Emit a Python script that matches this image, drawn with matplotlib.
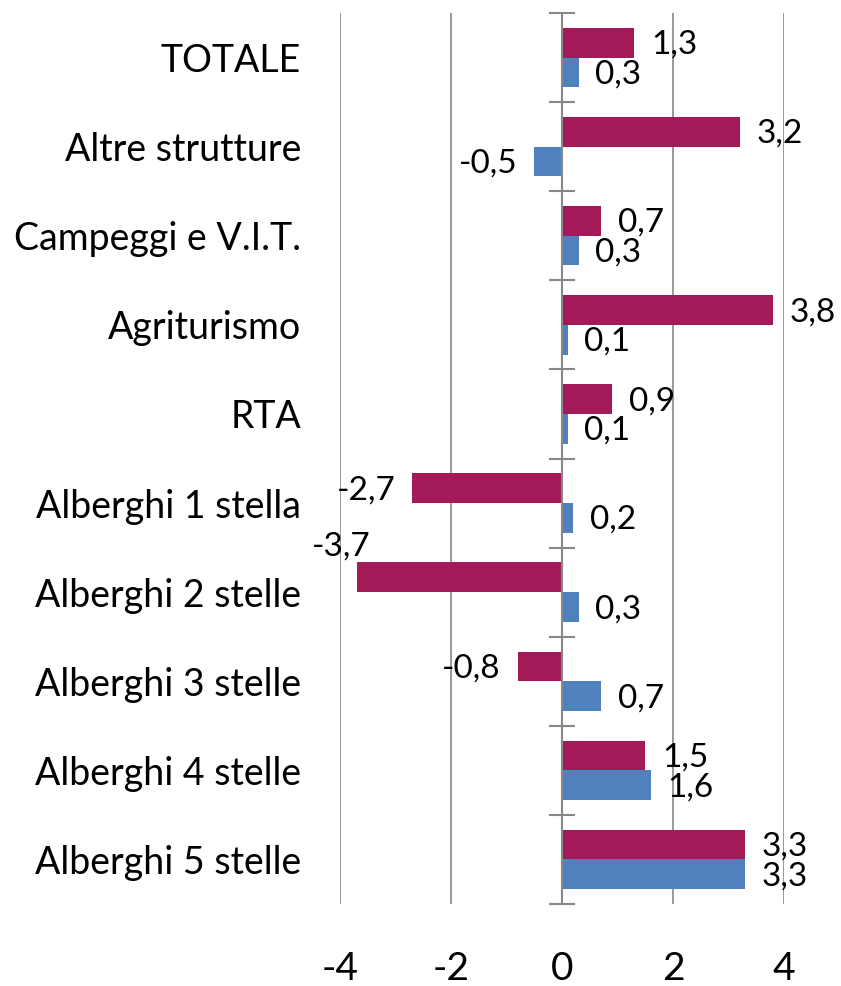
import numpy as np
import matplotlib
matplotlib.use("Agg")
import matplotlib.pyplot as plt

plt.rcParams['font.family'] = ['Lato', 'DejaVu Sans']

categories = ["TOTALE", "Altre strutture", "Campeggi e V.I.T.", "Agriturismo", "RTA",
              "Alberghi 1 stella", "Alberghi 2 stelle", "Alberghi 3 stelle",
              "Alberghi 4 stelle", "Alberghi 5 stelle"]
serie_rossa = [1.3, 3.2, 0.7, 3.8, 0.9, -2.7, -3.7, -0.8, 1.5, 3.3]
serie_blu = [0.3, -0.5, 0.3, 0.1, 0.1, 0.2, 0.3, 0.7, 1.6, 3.3]
x_ticks = [-4, -2, 0, 2, 4]

rosso = "#A31A58"
blu = "#4F81BD"
grigio = "#888888"

fig = plt.figure(figsize=(8.41, 9.86), dpi=100)
ax = fig.add_axes([340 / 841, 1 - 904 / 986, 444 / 841, 891 / 986])

y = np.arange(len(categories))
h = 0.333
ax.barh(y - h / 2, serie_rossa, height=h, color=rosso, zorder=3)
ax.barh(y + h / 2, serie_blu, height=h, color=blu, zorder=3)

ax.set_xlim(-4, 4)
ax.set_ylim(len(categories) - 0.5, -0.5)

ax.set_xticks(x_ticks)
ax.set_xticklabels([str(t) for t in x_ticks], fontsize=28)
ax.tick_params(axis='x', length=0, pad=34)
ax.grid(axis='x', color=grigio, linewidth=1.2, zorder=0)

for s in ['top', 'right', 'bottom']:
    ax.spines[s].set_visible(False)
ax.spines['left'].set_position(('data', 0))
ax.spines['left'].set_color(grigio)
ax.spines['left'].set_linewidth(1.5)
ax.spines['left'].set_zorder(4)

ax.set_yticks(y)
ax.set_yticklabels(categories, fontsize=27)
ax.set_yticks(np.arange(len(categories) + 1) - 0.5, minor=True)
ax.tick_params(axis='y', which='major', length=0, pad=188)
ax.tick_params(axis='y', which='minor', length=19, width=1.5, direction='inout', color=grigio)


def fmt(v):
    return ("%.1f" % v).replace(".", ",")


for i in range(len(categories)):
    for v, yy in ((serie_rossa[i], y[i] - h / 2), (serie_blu[i], y[i] + h / 2)):
        if v >= 0:
            ax.annotate(fmt(v), (v, yy), xytext=(12, -1.5), textcoords='offset points',
                        ha='left', va='center', fontsize=24, annotation_clip=False)
        elif v < -3.5:
            ax.annotate(fmt(v), (v, yy), xytext=(10, 22), textcoords='offset points',
                        ha='right', va='center', fontsize=24, annotation_clip=False)
        else:
            ax.annotate(fmt(v), (v, yy), xytext=(-12, -1.5), textcoords='offset points',
                        ha='right', va='center', fontsize=24, annotation_clip=False)

fig.savefig("out.png", dpi=100)
